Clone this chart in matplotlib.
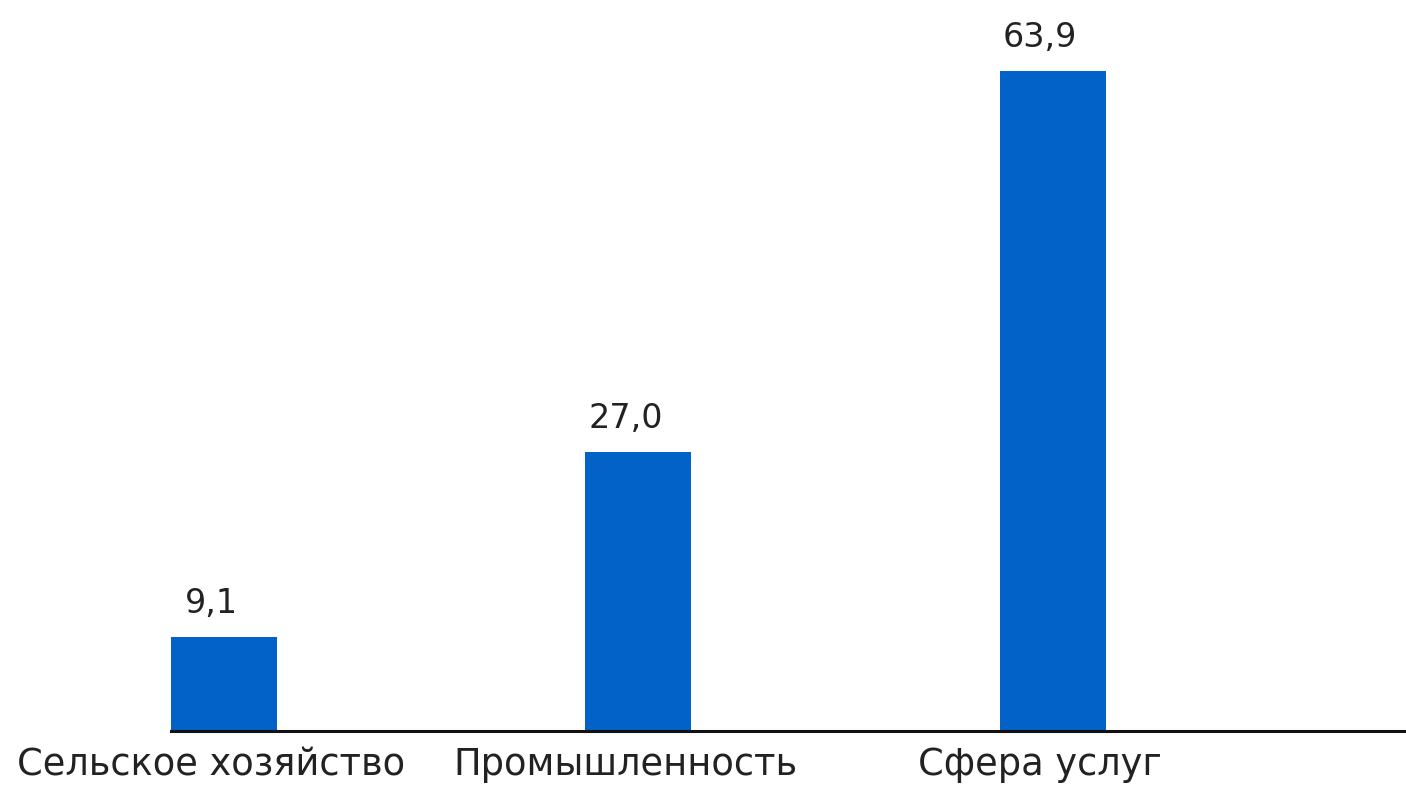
import matplotlib
matplotlib.use("Agg")
import matplotlib.pyplot as plt

categories = ["Сельское хозяйство", "Промышленность", "Сфера услуг"]
values = [9.1, 27.0, 63.9]
value_labels = ["9,1", "27,0", "63,9"]

plt.rcParams['font.family'] = ['DejaVu Sans']

fig = plt.figure(figsize=(14.06, 7.87), dpi=100)
ax = fig.add_axes([171/1406, 56/787, 1235/1406, 731/787])

x = list(range(len(categories)))
bars = ax.bar(x, values, width=0.256, color="#0262C8", zorder=2)

ax.set_xlim(-0.128, 2.853)
ax.set_ylim(0, 70.77)

for s in ["top", "right", "left"]:
    ax.spines[s].set_visible(False)
ax.spines["bottom"].set_linewidth(2.2)
ax.spines["bottom"].set_color("#111111")
ax.spines["bottom"].set_zorder(3)
ax.set_yticks([])
ax.set_xticks([])

for xi, v, lab in zip(x, values, value_labels):
    ax.annotate(lab, (xi, v), xytext=(-9, 12), textcoords="offset points",
                ha="center", va="bottom", fontsize=24, color="#222222")

for xi, cat in zip(x, categories):
    ax.annotate(cat, (xi, 0), xytext=(-9, -11), textcoords="offset points",
                ha="center", va="top", fontsize=26.5, color="#222222",
                annotation_clip=False)

fig.savefig("out.png", dpi=100)
